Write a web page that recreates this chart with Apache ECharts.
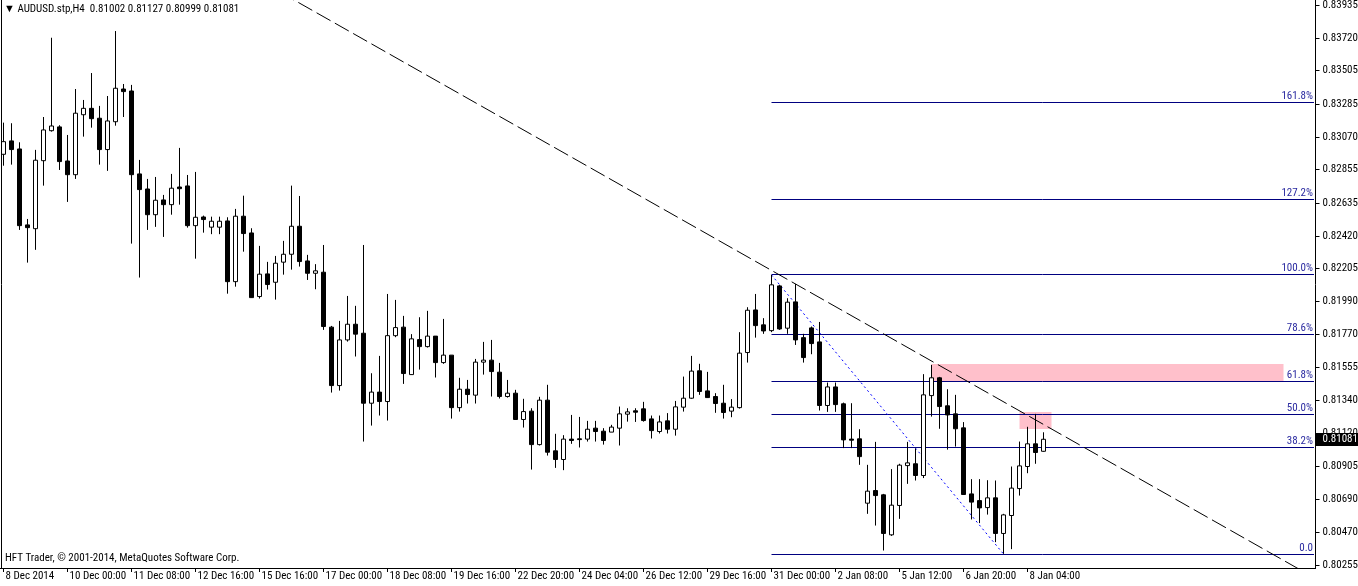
<!DOCTYPE html>
<html><head><meta charset="utf-8">
<script src="https://cdn.jsdelivr.net/npm/echarts@6/dist/echarts.min.js"></script>
<style>html,body{margin:0;padding:0;background:#fff}#c{width:1358px;height:586px}</style>
</head><body><div id="c"></div>
<script>
const tickLabels = ['8 Dec 2014','10 Dec 00:00','11 Dec 08:00','12 Dec 16:00','15 Dec 16:00','17 Dec 00:00','18 Dec 08:00','19 Dec 16:00','22 Dec 20:00','24 Dec 04:00','26 Dec 12:00','29 Dec 16:00','31 Dec 00:00','2 Jan 08:00','5 Jan 12:00','6 Jan 20:00','8 Jan 04:00'];
const barsPerLabel = 8;
const priceTicks = [0.80255,0.80470,0.80690,0.80905,0.81120,0.81340,0.81555,0.81770,0.81990,0.82205,0.82420,0.82635,0.82855,0.83070,0.83285,0.83505,0.83720,0.83935];
const opens = [0.82954,0.83042,0.82989,0.82490,0.82465,0.82912,0.83109,0.83134,0.82910,0.82820,
0.83214,0.83256,0.83191,0.82985,0.83168,0.83383,0.83370,0.82825,0.82726,0.82557,
0.82654,0.82623,0.82739,0.82746,0.82485,0.82542,0.82475,0.82475,0.82516,0.82117,
0.82547,0.82437,0.82019,0.82168,0.82113,0.82245,0.82297,0.82481,0.82253,0.82172,
0.82179,0.81818,0.81434,0.81734,0.81837,0.81778,0.81318,0.81391,0.81329,0.81762,
0.81818,0.81506,0.81736,0.81690,0.81759,0.81585,0.81634,0.81289,0.81410,0.81371,
0.81588,0.81601,0.81522,0.81362,0.81384,0.81211,0.81266,0.81046,0.81338,0.81005,
0.80948,0.81082,0.81084,0.81082,0.81154,0.81134,0.81128,0.81154,0.81246,0.81268,
0.81281,0.81215,0.81132,0.81202,0.81147,0.81292,0.81351,0.81531,0.81399,0.81362,
0.81318,0.81266,0.81289,0.81651,0.81931,0.81833,0.81795,0.82089,0.81811,0.81984,
0.81749,0.81813,0.81721,0.81303,0.81425,0.81314,0.81082,0.81084,0.80661,0.80744,
0.80716,0.80453,0.80646,0.80908,0.80920,0.80843,0.81368,0.81485,0.81301,0.81248,
0.81156,0.80722,0.80678,0.80632,0.80696,0.80462,0.80580,0.80757,0.80902,0.81051,
0.81002];
const closes = [0.83037,0.82985,0.82485,0.82472,0.82915,0.83114,0.83140,0.82906,0.82820,0.83224,
0.83256,0.83188,0.82985,0.83173,0.83388,0.83366,0.82820,0.82722,0.82557,0.82652,
0.82623,0.82731,0.82728,0.82485,0.82540,0.82525,0.82514,0.82514,0.82117,0.82547,
0.82433,0.82012,0.82166,0.82098,0.82238,0.82297,0.82481,0.82249,0.82172,0.82188,
0.81822,0.81434,0.81734,0.81837,0.81772,0.81318,0.81391,0.81329,0.81762,0.81815,
0.81513,0.81741,0.81690,0.81759,0.81585,0.81634,0.81289,0.81410,0.81375,0.81588,
0.81601,0.81526,0.81362,0.81384,0.81211,0.81263,0.81046,0.81338,0.80996,0.80948,
0.81082,0.81073,0.81079,0.81147,0.81132,0.81073,0.81161,0.81248,0.81261,0.81259,
0.81204,0.81138,0.81195,0.81147,0.81294,0.81351,0.81529,0.81395,0.81355,0.81316,
0.81257,0.81292,0.81647,0.81929,0.81828,0.81793,0.82096,0.81806,0.81982,0.81734,
0.81618,0.81710,0.81303,0.81425,0.81309,0.81077,0.81075,0.80967,0.80740,0.80711,
0.80462,0.80648,0.80911,0.80926,0.80843,0.81373,0.81485,0.81296,0.81241,0.81150,
0.80718,0.80668,0.80630,0.80696,0.80462,0.80584,0.80760,0.80906,0.81051,0.80994,
0.81081];
const lows = [0.82879,0.82886,0.82457,0.82242,0.82326,0.82748,0.83103,0.82851,0.82641,0.82792,
0.83070,0.83129,0.82886,0.82845,0.83142,0.83199,0.82367,0.82144,0.82457,0.82477,
0.82411,0.82557,0.82623,0.82472,0.82268,0.82439,0.82429,0.82429,0.82038,0.82084,
0.82314,0.82010,0.82006,0.82065,0.81999,0.82163,0.82196,0.82216,0.82128,0.82067,
0.81800,0.81388,0.81401,0.81723,0.81625,0.81066,0.81171,0.81237,0.81204,0.81752,
0.81445,0.81504,0.81539,0.81684,0.81487,0.81577,0.81217,0.81263,0.81316,0.81316,
0.81506,0.81362,0.81349,0.81355,0.81209,0.81158,0.80882,0.81040,0.80974,0.80893,
0.80878,0.81051,0.81027,0.81066,0.81066,0.81046,0.81128,0.81040,0.81197,0.81195,
0.81197,0.81086,0.81119,0.81119,0.81105,0.81263,0.81347,0.81373,0.81353,0.81255,
0.81217,0.81226,0.81283,0.81585,0.81749,0.81774,0.81785,0.81800,0.81774,0.81701,
0.81585,0.81640,0.81270,0.81261,0.81261,0.81023,0.81023,0.80913,0.80591,0.80514,
0.80350,0.80446,0.80558,0.80788,0.80810,0.80826,0.81230,0.81150,0.81013,0.81033,
0.80716,0.80554,0.80530,0.80586,0.80405,0.80328,0.80359,0.80711,0.80858,0.80920,
0.80999];
const highs = [0.83162,0.83158,0.83033,0.82529,0.82983,0.83199,0.83720,0.83145,0.83081,0.83383,
0.83311,0.83488,0.83272,0.83337,0.83764,0.83416,0.83410,0.82917,0.82792,0.82805,
0.82687,0.82825,0.82996,0.82818,0.82838,0.82551,0.82544,0.82544,0.82540,0.82595,
0.82682,0.82468,0.82352,0.82247,0.82286,0.82385,0.82748,0.82680,0.82293,0.82232,
0.82358,0.81826,0.81859,0.82023,0.81958,0.82358,0.81515,0.81629,0.82036,0.81997,
0.81892,0.81772,0.81883,0.81925,0.81759,0.81872,0.81634,0.81485,0.81471,0.81609,
0.81721,0.81734,0.81583,0.81471,0.81406,0.81347,0.81285,0.81360,0.81439,0.81117,
0.81108,0.81241,0.81228,0.81202,0.81202,0.81154,0.81176,0.81296,0.81285,0.81285,
0.81327,0.81237,0.81237,0.81253,0.81333,0.81493,0.81629,0.81577,0.81524,0.81384,
0.81439,0.81345,0.81785,0.81949,0.82036,0.81877,0.82161,0.82096,0.82008,0.82102,
0.81774,0.81822,0.81852,0.81454,0.81454,0.81322,0.81318,0.81147,0.80913,0.81064,
0.80722,0.80885,0.80920,0.81064,0.81020,0.81509,0.81570,0.81491,0.81410,0.81373,
0.81194,0.80819,0.80819,0.80812,0.80810,0.80591,0.80902,0.81066,0.81163,0.81248,
0.81127];
const fibLevels = [0, 38.2, 50, 61.8, 78.6, 100, 127.2, 161.8];
const fibLabels = ['0.0','38.2%','50.0%','61.8%','78.6%','100.0%','127.2%','161.8%'];
const fibLow = 0.80327, fibHigh = 0.82161;
const fibStartBar = 96, fibEndBar = 163.81;
const fibTrend = [[96, 0.82161], [125, 0.80327]];
const trendLine = [[30, 0.84156], [163, 0.80196]];
const zones = [[[116, 0.81460], [160, 0.81576]], [[127, 0.81149], [131, 0.81260]]];
const header = '\u25BC AUDUSD.stp,H4  0.81002 0.81127 0.80999 0.81081';
const footer = 'HFT Trader, \u00A9 2001-2014, MetaQuotes Software Corp.';
const slotCount = 164;
const lastPrice = '0.81081';

const FONT = "'Roboto Condensed','Liberation Sans',sans-serif";
const AXIS_X = 1315.5;
const categories = Array.from({length: slotCount}, (_, i) => String(i));
const candles = opens.map((o, i) => [o, closes[i], lows[i], highs[i]]);
const fibPrice = l => fibLow + (fibHigh - fibLow) * l / 100;
const fibData = fibLevels.map((lv, k) => [fibStartBar, fibEndBar, fibPrice(lv), k]);
const axisData = priceTicks.map(v => [0, v, 0]).concat([[0, closes[closes.length - 1], 1]]);

const chart = echarts.init(document.getElementById('c'), null, {renderer: 'canvas'});
const series = [];
series.push({
  type: 'line', xAxisIndex: 1, yAxisIndex: 0, data: [], z: 1, silent: true,
  markArea: { silent: true, itemStyle: {color: '#ffc0cb', opacity: 1},
    data: zones.map(z => [{coord: z[0]}, {coord: z[1]}]) }
});
series.push({
  type: 'custom', xAxisIndex: 1, yAxisIndex: 0, clip: false, silent: true, z: 2,
  data: fibData,
  renderItem: (params, api) => {
    const a = api.coord([api.value(0), api.value(2)]);
    const b = api.coord([api.value(1), api.value(2)]);
    const y = Math.floor(a[1]) + 0.5;
    return {type: 'group', children: [
      {type: 'line', shape: {x1: Math.floor(a[0]) + 0.5, y1: y, x2: b[0], y2: y}, style: {stroke: '#000080', lineWidth: 1}},
      {type: 'text', style: {text: fibLabels[api.value(3)], x: b[0] - 1, y: y - 1, align: 'right', verticalAlign: 'bottom',
        fill: '#2a2aa0', font: '11px ' + FONT}}
    ]};
  }
});
series.push({
  type: 'custom', xAxisIndex: 1, yAxisIndex: 0, clip: false, silent: true, z: 6,
  data: axisData,
  renderItem: (params, api) => {
    const p = api.coord([api.value(0), api.value(1)]);
    const y = Math.round(p[1]) + 0.5;
    if (api.value(2) === 1) {
      return {type: 'group', children: [
        {type: 'rect', shape: {x: AXIS_X + 0.5, y: y - 6.5, width: 44, height: 13}, style: {fill: '#000'}},
        {type: 'text', style: {text: lastPrice, x: AXIS_X + 7, y: y, align: 'left', verticalAlign: 'middle',
          fill: '#fff', font: '11px ' + FONT}}
      ]};
    }
    return {type: 'group', children: [
      {type: 'line', shape: {x1: AXIS_X, y1: y, x2: AXIS_X + 4, y2: y}, style: {stroke: '#000', lineWidth: 1}},
      {type: 'text', style: {text: api.value(1).toFixed(5), x: AXIS_X + 7, y: y, align: 'left', verticalAlign: 'middle',
        fill: '#000', font: '11px ' + FONT}}
    ]};
  }
});
series.push({
  type: 'line', xAxisIndex: 1, yAxisIndex: 0, clip: true, silent: true, symbol: 'none', z: 3,
  lineStyle: {color: '#000000', width: 1, type: [16, 5]}, data: trendLine
});
series.push({
  type: 'line', xAxisIndex: 1, yAxisIndex: 0, clip: true, silent: true, symbol: 'none', z: 3,
  lineStyle: {color: '#0000ff', width: 1, type: [2, 3]}, data: fibTrend
});
series.push({
  type: 'candlestick', xAxisIndex: 0, yAxisIndex: 0, data: candles, barWidth: 4, z: 4, silent: true,
  itemStyle: {color: '#ffffff', color0: '#000000', borderColor: '#000000', borderColor0: '#000000', borderWidth: 1}
});

chart.setOption({
  animation: false,
  backgroundColor: '#ffffff',
  textStyle: {fontFamily: FONT},
  grid: {left: -0.5, top: 0, width: 1312, height: 568, containLabel: false, outerBoundsMode: 'none'},
  xAxis: [{
    type: 'category', data: categories, boundaryGap: true,
    axisLine: {show: false},
    axisTick: {show: true, alignWithLabel: true, length: 4, lineStyle: {color: '#000'},
      interval: i => i % barsPerLabel === 0 && i / barsPerLabel < tickLabels.length},
    axisLabel: {show: true, align: 'left', margin: 3, padding: [0, 0, 0, 2], color: '#000', fontSize: 11, fontFamily: FONT,
      interval: i => i % barsPerLabel === 0 && i / barsPerLabel < tickLabels.length,
      formatter: (v, i) => tickLabels[i / barsPerLabel] || ''},
    splitLine: {show: false}
  }, {
    type: 'value', min: -0.5, max: slotCount - 0.5, show: false
  }],
  yAxis: [{
    type: 'value', position: 'right', min: 0.80235, max: 0.83968, show: false
  }],
  graphic: [
    {type: 'line', shape: {x1: 0, y1: 568.5, x2: 1316, y2: 568.5}, style: {stroke: '#000', lineWidth: 1}, z: 10},
    {type: 'line', shape: {x1: 1.5, y1: 0, x2: 1.5, y2: 569}, style: {stroke: '#000', lineWidth: 1}, z: 10},
    {type: 'line', shape: {x1: AXIS_X, y1: 0, x2: AXIS_X, y2: 569}, style: {stroke: '#000', lineWidth: 1}, z: 10},
    {type: 'text', left: 4, top: 4, style: {text: header, fill: '#000', font: '11px ' + FONT}, z: 10},
    {type: 'text', left: 5, top: 553, style: {text: footer, fill: '#000', font: '11px ' + FONT}, z: 10}
  ],
  series: series
});
</script></body></html>
